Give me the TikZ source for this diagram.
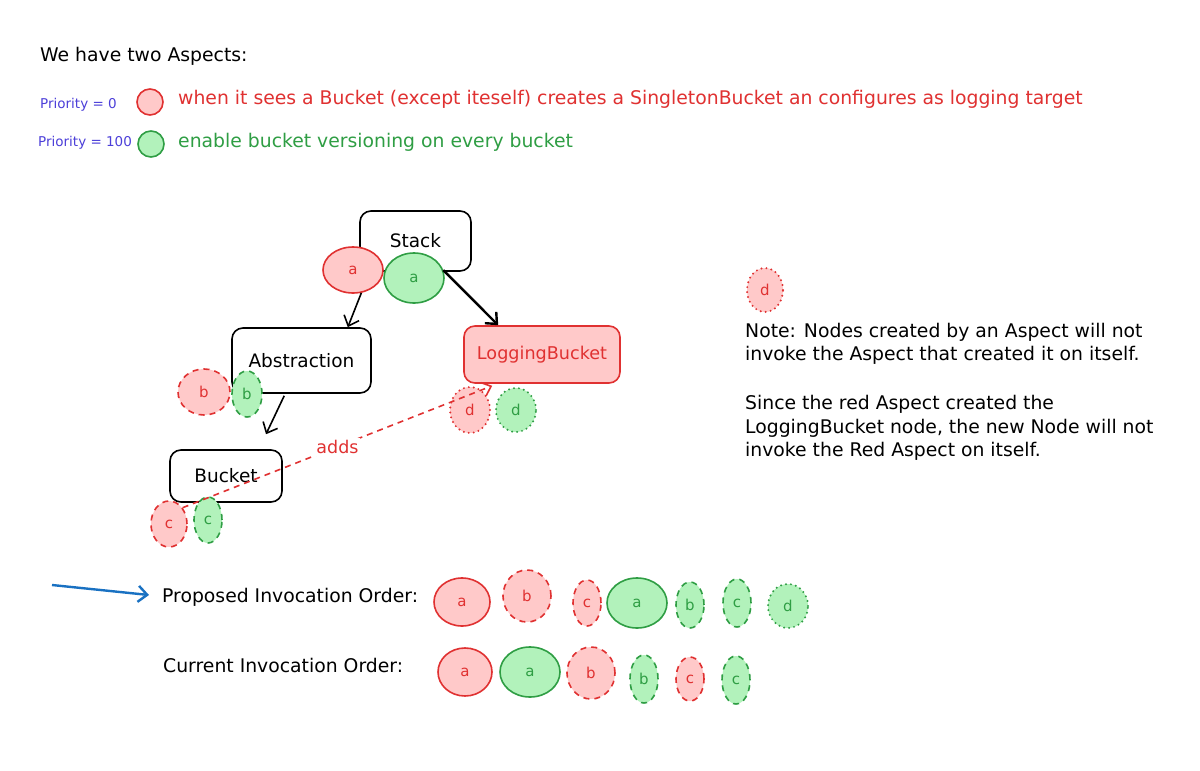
\documentclass[tikz,border=0pt]{standalone}
\usepackage{fontspec}
\setmainfont{DejaVu Sans}
\usetikzlibrary{shapes.geometric,arrows.meta,calc}
\definecolor{rstroke}{HTML}{E03131}
\definecolor{rfill}{HTML}{FFC9C9}
\definecolor{gstroke}{HTML}{2F9E44}
\definecolor{gfill}{HTML}{B2F2BB}
\definecolor{prio}{HTML}{4C3FD9}
\definecolor{bluearr}{HTML}{1971C2}
\begin{document}
\begin{tikzpicture}[x=1pt,y=-1pt,
  txt/.style={anchor=west,inner sep=0pt,text height=13.5pt,text depth=4.5pt,font=\fontsize{18.8}{22}\selectfont},
  small/.style={anchor=west,inner sep=0pt,text height=10pt,text depth=3pt,font=\fontsize{13.5}{16}\selectfont,text=prio},
  box/.style={draw=black,line width=1.6pt,rounded corners=11pt,inner sep=0pt,font=\fontsize{18.5}{20}\selectfont},
  sz/.style n args={2}{minimum width=#1pt,minimum height=#2pt},
  redov/.style={ellipse,draw=rstroke,fill=rfill,line width=1.6pt,inner sep=0pt,text=rstroke,font=\fontsize{15}{17}\selectfont},
  greenov/.style={ellipse,draw=gstroke,fill=gfill,line width=1.6pt,inner sep=0pt,text=gstroke,font=\fontsize{15}{17}\selectfont},
  dashln/.style={dash pattern=on 6pt off 5pt},
  dotln/.style={line width=2.2pt,line cap=round,dash pattern=on 0pt off 5pt},
  arr/.style={draw=black,line width=1.6pt,-{Straight Barb[length=9pt,width=16pt]}},
]
\useasboundingbox[fill=white] (0,0) rectangle (1200,771);

% header
\node[txt] (title) at (40,57) {We have two Aspects:};
\node[small] (p0) at (40,105) {Priority = 0};
\node[small] (p100) at (38,143) {Priority = 100};
\node[redov,sz={26}{26}] (lr) at (150,102) {};
\node[greenov,sz={26}{26}] (lg) at (151,144) {};
\node[txt,text=rstroke] (rtext) at (178,100) {when it sees a Bucket (except iteself) creates a SingletonBucket an configures as logging target};
\node[txt,text=gstroke] (gtext) at (178,143) {enable bucket versioning on every bucket};

% tree boxes
\node[box,sz={111}{60}] (stack) at (415.5,241) {Stack};
\node[box,sz={139}{65}] (abs) at (301.5,360.5) {Abstraction};
\node[box,sz={112}{52}] (bk) at (226,476) {Bucket};
\node[box,draw=rstroke,fill=rfill,text=rstroke,sz={156}{57},font=\fontsize{17.6}{20}\selectfont] (lb) at (542,354.5) {LoggingBucket};

% aspect ellipses and connectors
\node[redov,sz={60}{46}] (ra) at (353,270) {a};
\node[greenov,sz={60}{50}] (ga) at (414,278) {a};
\draw[arr] (ra.-70) -- ($(abs.north east)+(-24,0)$);
\draw[arr,line width=2.4pt] (ga.15) -- ($(lb.north west)+(35,0)$);
\draw[arr] ($(abs.south west)+(53,2)$) -- ($(bk.north)+(40,-15)$);

\node[redov,dashln,sz={52}{46}] (rb) at (204,392) {b};
\node[greenov,dashln,sz={30}{46}] (gb) at (247,394) {b};
\node[redov,dashln,sz={36}{46}] (rc) at (169,524) {c};
\node[greenov,dashln,sz={28}{46}] (gc) at (208,520) {c};
\node[redov,dotln,sz={40}{46}] (rd) at (470,410) {d};
\node[greenov,dotln,sz={40}{44}] (gd) at (516,410) {d};

\draw[draw=rstroke,line width=1.6pt,dashln,-{Straight Barb[length=8pt,width=14pt]}]
  (rc.50) -- node[pos=0.5,fill=white,inner sep=2pt,text=rstroke,font=\fontsize{17.5}{20}\selectfont] (adds) {adds} ($(lb.south west)+(29,2)$);

% note
\node[redov,dotln,sz={36}{44}] (dn) at (765,290) {d};
\node[txt] (n1) at (745,333) {Note: Nodes created by an Aspect will not};
\node[txt] (n2) at (745,356) {invoke the Aspect that created it on itself.};
\node[txt] (n3) at (745,405) {Since the red Aspect created the};
\node[txt] (n4) at (745,429) {LoggingBucket node, the new Node will not};
\node[txt] (n5) at (745,452) {invoke the Red Aspect on itself.};

% invocation orders
\node[txt] (prop) at (162,598) {Proposed Invocation Order:};
\node[txt] (cur) at (163,668) {Current Invocation Order:};
\coordinate (bstart) at (52,585);
\draw[draw=bluearr,line width=2.4pt,-{Straight Barb[length=9pt,width=16pt]}] (bstart) -- ($(prop.west)+(-13,-3)$);

\node[redov,sz={56}{48}] (o1) at (462,602) {a};
\node[redov,dashln,sz={48}{52}] (o2) at (527,596) {b};
\node[redov,dashln,sz={28}{46}] (o3) at (587,603) {c};
\node[greenov,sz={60}{50}] (o4) at (637,603) {a};
\node[greenov,dashln,sz={28}{46}] (o5) at (690,605) {b};
\node[greenov,dashln,sz={28}{48}] (o6) at (737,603) {c};
\node[greenov,dotln,sz={40}{44}] (o7) at (788,606) {d};

\node[redov,sz={54}{48}] (q1) at (465,672) {a};
\node[greenov,sz={60}{50}] (q2) at (530,672) {a};
\node[redov,dashln,sz={48}{52}] (q3) at (591,673) {b};
\node[greenov,dashln,sz={28}{48}] (q4) at (644,679) {b};
\node[redov,dashln,sz={28}{44}] (q5) at (690,679) {c};
\node[greenov,dashln,sz={28}{48}] (q6) at (736,680) {c};
\end{tikzpicture}
\end{document}
